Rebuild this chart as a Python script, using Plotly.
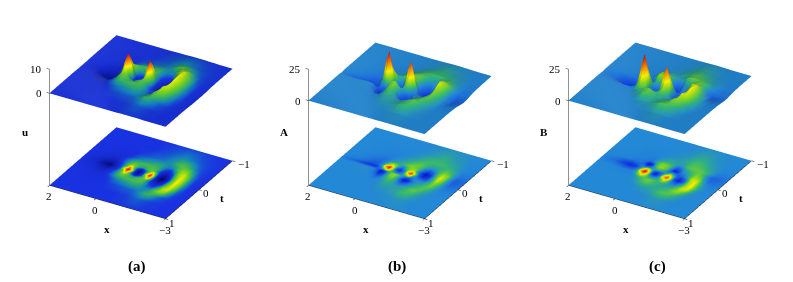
import plotly.graph_objects as go

x_vals = [-3,-2.6,-2.4,-2.2,-2,-1.8,-1.6,-1.4,-1.2,-1.05,-.9,-.75,-.6,-.4,-.25,-.1,.05,.2,.35,.55,.8,1.05,1.4,2]
t_vals = [-1,-.7,-.5,-.35,-.25,-.15,-.07,0,.07,.15,.25,.35,.5,.7,1]

u_values = [
[0,0,0,.1,.1,.2,.2,.2,.2,.1,.1,.1,.1,0,0,0,0,0,0,0,0,0,0,0],
[0,.1,.2,.3,.5,.8,1,1.2,1,.8,.6,.4,.3,.2,.1,0,0,0,0,0,-.1,-.1,0,0],
[0,.1,.3,.8,1.6,2.4,2.8,2.4,1.6,1.2,1,.8,.7,.6,.5,.3,.2,.1,-.1,-.2,-.2,-.2,-.1,0],
[-.1,.1,.6,2,3.8,4,2.6,1.2,1,1.4,1.8,1.9,1.8,1.6,1.4,1.2,1,.6,.2,-.2,-.4,-.3,-.2,0],
[-.2,.1,1,3.2,5,4.2,1.2,-.5,.2,1.2,2.2,2.6,2.6,2.6,2.5,2.4,2.3,1.8,1,.1,-.7,-.6,-.3,0],
[-.3,.1,1.2,3.8,5.4,3.4,-.4,-2,-1,.8,2.6,3,2.6,1.6,2,3,3.8,2.8,1.2,-.2,-1.4,-1.2,-.5,-.1],
[-.3,.1,1.3,4,5.5,2.8,-1.5,-3.5,-1.6,2,7,3.2,.4,-2.8,-.6,3,7.5,3,.8,-1,-2.6,-2,-.8,-.1],
[-.3,.1,1.3,4,5.6,2.6,-2.5,-4.5,-2.2,3.2,9.5,6,-.2,-4,-.8,6,10,6,.6,-1.4,-3.8,-3,-1,-.1],
[-.3,.1,1.2,3.8,5.4,2.8,-1.5,-3.5,-1.6,2,7,3.2,.4,-2.8,-.6,3,7.5,3,.8,-1,-2.6,-2,-.8,-.1],
[-.3,.1,1,3.5,5.2,3.4,-.2,-1.8,-.8,.8,2.6,3,2.6,1.6,2,3,3.8,2.8,1.2,-.2,-1.4,-1.2,-.5,-.1],
[-.2,.1,.6,2.6,5,4.5,1.5,-.2,.2,1.2,2.2,2.6,2.6,2.6,2.5,2.4,2.3,1.8,1,.1,-.7,-.6,-.3,0],
[-.1,0,.3,1.5,3.5,4.2,3,1.2,1,1.3,1.7,1.9,1.8,1.6,1.4,1.2,1,.6,.2,-.2,-.4,-.3,-.2,0],
[0,0,.1,.3,.6,1.4,2.2,2.2,1.4,1,.7,.6,.6,.5,.4,.3,.2,.1,-.1,-.2,-.2,-.2,-.1,0],
[0,0,0,.1,.1,.2,.4,.6,.5,.3,.2,.1,.1,0,0,0,0,0,0,0,-.1,-.1,0,0],
[0,0,0,0,0,.1,.1,.1,.1,.1,0,0,0,0,0,0,0,0,0,0,0,0,0,0],
]

a_values = [
[0,0,0,.1,.2,.3,.4,.4,.3,.2,.1,.1,0,0,0,0,0,0,0,0,0,0,0,0],
[-.2,0,.2,.6,1,1.4,2,2.4,2,1.5,1,.6,.3,.1,0,0,0,0,0,0,0,0,0,0],
[-.5,-.3,.5,1.5,2.5,3,3.5,3.5,3.5,3.5,3.2,2.5,1.5,.8,.3,0,-.2,-.3,-.3,-.3,-.2,-.1,0,0],
[-1.2,-1,1,3.5,5,3.5,1.5,.8,2,3.8,4.8,4.8,4,2.6,1.6,.8,.3,-.2,-.6,-.6,-.4,-.2,0,0],
[-2,-2.5,1,6,8,4,-2,-4,-1,3,5,6,6,4,2.6,2,1.5,.6,-1,-1.5,-1,-.5,-.2,0],
[-2,-3,0,6,10,3,-6,-9,-4,1,8,7,4,-2,1,7,10,5,0,-2.5,-2,-1,-.3,0],
[-1.5,-2.5,0,5,9,2,-5,-7,-3,7,22,15,-1,-7,-4,9,25,16,1,-3,-3.5,-2,-.8,0],
[-1,-2,0,4,7,2,-3,-3,-1,1,12,6,0,-3,0,6,14,5,-2,-6,-6,-5,-2.5,-.5],
[-.5,-1,0,3,6,3,.5,.5,0,-3,-3,-.5,3,7,6,1.5,-6,-9,-3,0,.5,.2,0,0],
[-.3,-.5,0,2,5,4,2,1,-2,-7,-9,-4,2,6,5,1,-5,-7,-2,0,.3,.2,0,0],
[-.1,-.2,0,1,3,4.5,3.5,2,0,-2,-3,-1,2,4,3,1,-1.5,-2,-.5,0,.2,.1,0,0],
[0,0,0,.5,1.5,3.5,5,4,2.5,1.5,1.2,1.5,2,2.2,1.6,.6,0,-.3,-.1,0,0,0,0,0],
[0,0,0,.2,.6,1.5,3,3.5,3,2,1.5,1.2,1,.8,.5,.2,0,0,0,0,0,0,0,0],
[0,0,0,0,.1,.3,.6,.8,.6,.4,.3,.2,.1,.1,0,0,0,0,0,0,0,0,0,0],
[0,0,0,0,0,.1,.1,.1,.1,.1,0,0,0,0,0,0,0,0,0,0,0,0,0,0],
]

b_values = [
[0,0,0,0,.1,.2,.3,.3,.2,.1,.1,0,0,0,0,0,0,0,0,0,0,0,0,0],
[0,0,.1,.3,.5,1,1.6,2,1.8,1.2,.8,.4,.2,.1,0,0,0,0,0,0,0,0,0,0],
[-.2,-.2,.2,.8,1.5,2.5,3.5,4,3.5,2.5,1.8,1.2,.8,.5,.3,.1,0,-.2,-.2,-.2,-.1,0,0,0],
[-.8,-1.2,-.5,1.5,3.5,4.5,5,5,4,2,1,1.5,2,2.5,2,1,0,-.5,-.5,-.3,-.2,-.1,0,0],
[-1.2,-2.5,-2.5,-.5,3.5,5.5,4,2.5,1,-2,-3,.5,4,6,6,4,1,-1.5,-1,-.5,-.4,-.2,-.1,0],
[-1,-2,-2,1,6,7,3,.5,-1,-6,-8,-2,4,7,6.5,3,-7,-9,-3,-1,-1,-.6,-.2,0],
[-.6,-1.2,-.5,3,9,9,2,-2,-3,-1,3,-1,1,3,3,0,-1,-3,-1,-3,-4.5,-3.5,-1.2,-.2],
[-.3,-.6,.5,4,10.5,8,-2,-6,-3,6,13,6,-2,-5,-3,7,15,7,-1,-6,-6.5,-5,-2,-.3],
[-.2,-.3,1,4.5,11,7,-3,-8,-4,9,21,14,-1,-8,-4,11,26,16,1,-3,-4,-2.5,-1,-.1],
[-.1,0,1,4.5,11,7,.5,-3,-1,5,10,5,1,-1,1,8,13,7,1,-.5,-.5,-.3,-.1,0],
[0,0,.5,3,9,9,4,1,1,2,3,3,4,5.5,5,4,3,1,0,-.2,-.2,-.1,0,0],
[0,0,.2,1,4,7,6,3.5,2.5,2,2,2.5,3.5,4.5,4,2.5,1,.3,0,0,0,0,0,0],
[0,0,0,.2,1,2.5,4,4.5,4,3,2,1.5,1.2,1,.6,.2,0,0,0,0,0,0,0,0],
[0,0,0,0,.1,.3,.7,1,.9,.6,.4,.2,.1,.1,0,0,0,0,0,0,0,0,0,0],
[0,0,0,0,0,.1,.1,.1,.1,.1,0,0,0,0,0,0,0,0,0,0,0,0,0,0],
]

panel_labels = ["u", "A", "B"]
captions = ["(a)", "(b)", "(c)"]
z_ticks = [[0, 10], [0, 25], [0, 25]]
z_floors = [-38.3, -67.5, -67.5]
x_ticks = [2, 0, -3]
t_ticks = [1, 0, -1]

scale_u = [[0, "rgb(0,0,105)"], [.323, "rgb(25,50,225)"], [.39, "rgb(20,130,190)"], [.46, "rgb(50,175,100)"],
           [.56, "rgb(120,210,30)"], [.68, "rgb(250,240,0)"], [.85, "rgb(245,90,0)"], [.95, "rgb(220,10,0)"], [1, "rgb(140,0,0)"]]
scale_ab = [[0, "rgb(0,0,120)"], [.154, "rgb(15,50,225)"], [.3077, "rgb(35,135,215)"], [.385, "rgb(50,180,120)"], [.46, "rgb(120,210,40)"],
            [.58, "rgb(245,240,0)"], [.8, "rgb(245,90,0)"], [.94, "rgb(220,10,0)"], [1, "rgb(140,0,0)"]]
scales = [scale_u, scale_ab, scale_ab]
c_ranges = [(-5, 10.5), (-12, 27), (-12, 27)]
centres = [140.5, 399.8, 659.8]
caption_x = [137, 397, 657]

W, H = 793, 282
DOMAIN = 230
CUBE_MID = 115
EYE = 1.38
ZOOM = 1.166
fig = go.Figure()
layout = {}
for i, (vals, lab) in enumerate(zip([u_values, a_values, b_values], panel_labels)):
    sid = "scene" if i == 0 else f"scene{i+1}"
    floor = z_floors[i]; top = z_ticks[i][1]
    cmin, cmax = c_ranges[i]
    common = dict(x=x_vals, y=t_vals, surfacecolor=vals, colorscale=scales[i], cmin=cmin, cmax=cmax,
                  showscale=False, scene=sid, hoverinfo="skip")
    fig.add_trace(go.Surface(z=vals, lighting=dict(ambient=.7, diffuse=.42, specular=.08, roughness=.5, fresnel=.05),
                             lightposition=dict(x=300, y=-500, z=-1200), **common))
    fig.add_trace(go.Surface(z=[[floor] * len(x_vals) for _ in t_vals],
                             lighting=dict(ambient=1, diffuse=0, specular=0, fresnel=0), **common))
    xl, tl = x_vals[-1], t_vals[-1]
    xr, tr = x_vals[0], t_vals[0]
    segs = [([xl, xl], [tl, tl], [floor, top]), ([xl, xr], [tl, tl], [floor, floor]), ([xr, xr], [tl, tr], [floor, floor])]
    for v in z_ticks[i]:
        segs.append(([xl, xl + .12], [tl, tl], [v, v]))
    for v in x_ticks:
        segs.append(([v, v], [tl, tl + .05], [floor, floor]))
    for v in t_ticks:
        segs.append(([xr, xr - .12], [v, v], [floor, floor]))
    lx, ly, lz = [], [], []
    for a, b, c in segs:
        lx += a + [None]; ly += b + [None]; lz += c + [None]
    fig.add_trace(go.Scatter3d(x=lx, y=ly, z=lz, mode="lines", line=dict(color="#222222", width=1),
                               scene=sid, showlegend=False, hoverinfo="skip"))
    font = dict(family="Liberation Serif", size=11, color="black")
    ann = []
    def A(x, y, z, text, xs, ys):
        ann.append(dict(x=x, y=y, z=z, text=text, showarrow=False, xshift=xs, yshift=ys, xanchor="center", yanchor="middle", font=font))
    for v in z_ticks[i]:
        ann.append(dict(x=xl, y=tl, z=v, text=str(v), showarrow=False, xshift=-5, yshift=0, xanchor="right", yanchor="middle", font=font))
    A(xl, tl, (floor + top) / 2, f"<b>{lab}</b>", -24, -5)
    for v in x_ticks:
        A(v, tl, floor, str(v).replace("-", "\u2212"), 0, -11)
    A(-.5, tl, floor, "<b>x</b>", 0, -27)
    for v, xs, ys in zip(t_ticks, [7, 7, 12], [-4, -3, -3]):
        A(xr, v, floor, str(v).replace("-", "\u2212"), xs, ys)
    A(xr, 0, floor, "<b>t</b>", 23, -8)
    zmid = (floor + top) / 2
    half = (top - floor) / 2 + (top - floor) * .06
    zr = [zmid - half, zmid + half]
    ax = dict(visible=False, showspikes=False)
    c = centres[i]
    layout[sid] = dict(
        domain=dict(x=[(c - DOMAIN / 2) / W, (c + DOMAIN / 2) / W], y=[1 - (CUBE_MID + DOMAIN / 2) / H, 1 - (CUBE_MID - DOMAIN / 2) / H]),
        xaxis=dict(range=[-3.3, 2.3], **ax), yaxis=dict(range=[-1.12, 1.12], **ax), zaxis=dict(range=zr, **ax),
        aspectmode="manual", aspectratio=dict(x=1.12 * ZOOM, y=1.12 * ZOOM, z=2 * half / (top - floor) * ZOOM),
        camera=dict(projection=dict(type="orthographic"), eye=dict(x=-.433 * EYE, y=.75 * EYE, z=.5 * EYE),
                    center=dict(x=0, y=0, z=0), up=dict(x=0, y=0, z=1)),
        annotations=ann, bgcolor="white")

annotations = [dict(x=cx / W, y=1 - 266 / H, xref="paper", yref="paper", xanchor="center", yanchor="middle",
                    text=f"<b>{cap}</b>", showarrow=False,
                    font=dict(family="Liberation Serif", size=15, color="black")) for cx, cap in zip(caption_x, captions)]
fig.update_layout(width=W, height=H, margin=dict(l=0, r=0, t=0, b=0), paper_bgcolor="white",
                  showlegend=False, annotations=annotations, **layout)
fig.write_html("out.html", config=dict(displayModeBar=False),
               post_script="document.body.style.margin='0';document.body.style.overflow='hidden';")
